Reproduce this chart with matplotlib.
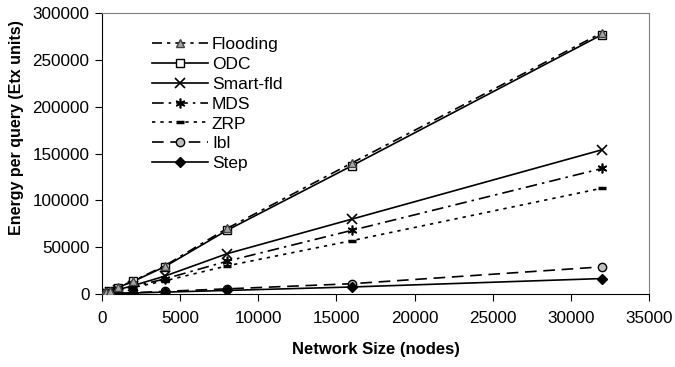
import matplotlib
matplotlib.use("Agg")
import matplotlib.pyplot as plt

plt.rcParams['font.family'] = ['Liberation Sans', 'DejaVu Sans']

sizes = [125, 250, 500, 1000, 2000, 4000, 8000, 16000, 32000]
flooding = [800, 1700, 3500, 7000, 14000, 30000, 70000, 140000, 279000]
odc = [750, 1600, 3300, 6800, 13500, 29000, 68000, 137000, 277000]
smart_fld = [500, 1000, 2200, 4500, 9000, 19000, 43000, 80000, 154000]
mds = [450, 900, 2000, 4000, 8000, 16000, 35000, 68000, 134000]
zrp = [400, 800, 1700, 3500, 7000, 14000, 30000, 57000, 113000]
ibl = [100, 200, 400, 700, 1400, 2800, 5500, 11000, 29000]
step = [80, 150, 300, 600, 1100, 2000, 3800, 7500, 16500]

W, H = 675, 367
fig = plt.figure(figsize=(6.75, 3.67), dpi=100)
ax = fig.add_axes([102 / W, 1 - 294 / H, (649 - 102) / W, (294 - 13) / H])

lw = 1.2
ax.plot(sizes, flooding, color='black', lw=lw, dashes=(6, 3, 2, 3), marker='^', ms=6,
        mfc='#a6a6a6', mec='#404040', label='Flooding', zorder=4)
ax.plot(sizes, odc, color='black', lw=lw, ls='-', marker='s', ms=5.5,
        mfc='white', mec='black', label='ODC', zorder=3)
ax.plot(sizes, smart_fld, color='black', lw=lw, ls='-', marker='x', ms=7,
        mew=1.2, label='Smart-fld', zorder=3)
ax.plot(sizes, mds, color='black', lw=lw, dashes=(7, 3, 1.5, 3), marker=(6, 2, 0), ms=7,
        mew=1.2, label='MDS', zorder=3)
ax.plot(sizes, zrp, color='black', lw=lw, dashes=(2, 3), marker='_', ms=6,
        mew=2.5, label='ZRP', zorder=3)
ax.plot(sizes, ibl, color='black', lw=lw, dashes=(7, 4), marker='o', ms=6,
        mfc='#c0c0c0', mec='black', label='Ibl', zorder=3)
ax.plot(sizes, step, color='black', lw=lw, ls='-', marker='D', ms=5.5,
        mfc='black', mec='black', label='Step', zorder=3)

ax.set_xlim(0, 35000)
ax.set_ylim(0, 300000)
ax.set_xticks(range(0, 35001, 5000))
ax.set_yticks(range(0, 300001, 50000))
ax.tick_params(axis='both', direction='out', length=5, width=0.8, labelsize=12.3)
ax.tick_params(axis='x', pad=7)
ax.tick_params(axis='y', pad=4)
for s in ['top', 'right']:
    ax.spines[s].set_color('#808080')
for s in ['left', 'bottom']:
    ax.spines[s].set_color('black')

ax.set_xlabel('Network Size (nodes)', fontsize=12, fontweight='bold', labelpad=12)
ax.set_ylabel('Energy per query (Etx units)', fontsize=11.5, fontweight='bold')
ax.yaxis.set_label_coords((24 - 102) / 547, (294 - 128) / 281)

leg = ax.legend(loc='upper left', bbox_to_anchor=(152 / W, 1 - 37 / H), bbox_transform=fig.transFigure,
                frameon=False, fontsize=12.5, handlelength=3.2, handletextpad=0.25,
                labelspacing=0.27, borderpad=0, borderaxespad=0)

fig.savefig('out.png', dpi=100)
